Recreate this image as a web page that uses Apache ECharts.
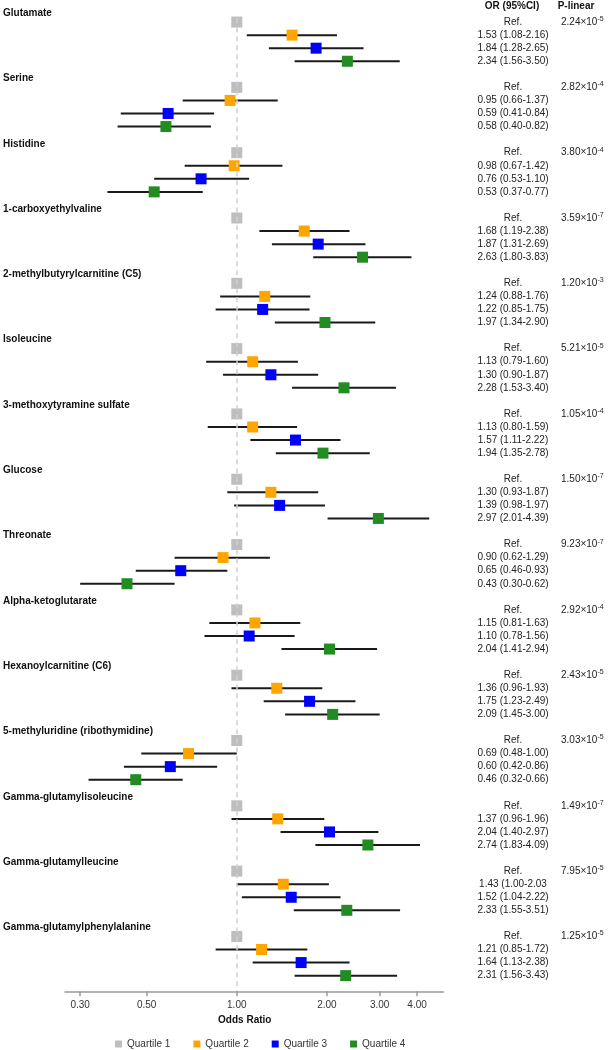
<!DOCTYPE html>
<html>
<head>
<meta charset="utf-8">
<script src="https://cdn.jsdelivr.net/npm/echarts@6/dist/echarts.min.js"></script>
<style>
  html, body { margin: 0; padding: 0; background: #fff; }
  #chart { width: 609px; height: 1050px; }
</style>
</head>
<body>
<div id="chart"></div>
<script>
// ---------------- data ----------------
const metabolites = [
  'Glutamate', 'Serine', 'Histidine', '1-carboxyethylvaline',
  '2-methylbutyrylcarnitine (C5)', 'Isoleucine', '3-methoxytyramine sulfate',
  'Glucose', 'Threonate', 'Alpha-ketoglutarate', 'Hexanoylcarnitine (C6)',
  '5-methyluridine (ribothymidine)', 'Gamma-glutamylisoleucine',
  'Gamma-glutamylleucine', 'Gamma-glutamylphenylalanine'
];
const quartileNames = ['Quartile 1', 'Quartile 2', 'Quartile 3', 'Quartile 4'];
const refOR = 1.00;
const q2OR = [1.53, 0.95, 0.98, 1.68, 1.24, 1.13, 1.13, 1.30, 0.90, 1.15, 1.36, 0.69, 1.37, 1.43, 1.21];
const q2Lo = [1.08, 0.66, 0.67, 1.19, 0.88, 0.79, 0.80, 0.93, 0.62, 0.81, 0.96, 0.48, 0.96, 1.00, 0.85];
const q2Hi = [2.16, 1.37, 1.42, 2.38, 1.76, 1.60, 1.59, 1.87, 1.29, 1.63, 1.93, 1.00, 1.96, 2.03, 1.72];
const q3OR = [1.84, 0.59, 0.76, 1.87, 1.22, 1.30, 1.57, 1.39, 0.65, 1.10, 1.75, 0.60, 2.04, 1.52, 1.64];
const q3Lo = [1.28, 0.41, 0.53, 1.31, 0.85, 0.90, 1.11, 0.98, 0.46, 0.78, 1.23, 0.42, 1.40, 1.04, 1.13];
const q3Hi = [2.65, 0.84, 1.10, 2.69, 1.75, 1.87, 2.22, 1.97, 0.93, 1.56, 2.49, 0.86, 2.97, 2.22, 2.38];
const q4OR = [2.34, 0.58, 0.53, 2.63, 1.97, 2.28, 1.94, 2.97, 0.43, 2.04, 2.09, 0.46, 2.74, 2.33, 2.31];
const q4Lo = [1.56, 0.40, 0.37, 1.80, 1.34, 1.53, 1.35, 2.01, 0.30, 1.41, 1.45, 0.32, 1.83, 1.55, 1.56];
const q4Hi = [3.50, 0.82, 0.77, 3.83, 2.90, 3.40, 2.78, 4.39, 0.62, 2.94, 3.00, 0.66, 4.09, 3.51, 3.43];
const pMantissa = ['2.24', '2.82', '3.80', '3.59', '1.20', '5.21', '1.05', '1.50', '9.23', '2.92', '2.43', '3.03', '1.49', '7.95', '1.25'];
const pExponent = ['-5', '-4', '-4', '-7', '-3', '-5', '-4', '-7', '-7', '-4', '-5', '-5', '-7', '-5', '-5'];
// text exactly as printed in the source (one closing parenthesis is missing there);
// key = metaboliteIndex-quartileNumber
const orTextOverrides = { '13-2': '1.43 (1.00-2.03' };
const xTickValues = [0.30, 0.50, 1.00, 2.00, 3.00, 4.00];
const xRange = [0.267, 4.9];

// ---------------- layout helpers ----------------
const SLOTS = 5;            // title slot + 4 quartile rows
const TITLE_SHIFT = 0.32;
const Y_MAX = 75.2;
const FONT = '"Liberation Sans", Arial, Helvetica, sans-serif';
const colors = ['#BEBEBE', '#FFA500', '#0000FF', '#228B22'];
const log = v => Math.log10(v);
const key = v => v.toFixed(3);

const rowY = (g, q) => g * SLOTS + 1 + q;      // q = 0..3
const quart = [
  null,
  { or: q2OR, lo: q2Lo, hi: q2Hi },
  { or: q3OR, lo: q3Lo, hi: q3Hi },
  { or: q4OR, lo: q4Lo, hi: q4Hi }
];

const titleMap = {}, orMap = {}, pMap = {};
const titleVals = [], rowVals = [], refVals = [];
metabolites.forEach((m, g) => {
  const tv = g * SLOTS + TITLE_SHIFT;
  titleVals.push(tv); titleMap[key(tv)] = m;
  for (let q = 0; q < 4; q++) {
    const y = rowY(g, q);
    rowVals.push(y);
    let t;
    if (q === 0) t = 'Ref.';
    else {
      const d = quart[q];
      t = orTextOverrides[g + '-' + (q + 1)] ||
        `${d.or[g].toFixed(2)} (${d.lo[g].toFixed(2)}-${d.hi[g].toFixed(2)})`;
    }
    orMap[key(y)] = t;
  }
  const ry = rowY(g, 0);
  refVals.push(ry);
  pMap[key(ry)] = `{m|${pMantissa[g]}×10}{s|${pExponent[g]}}`;
});

// scatter data per quartile
const pointSeries = quartileNames.map((name, q) => ({
  name,
  type: 'scatter',
  symbol: 'rect',
  symbolSize: 11,
  z: 4,
  itemStyle: { color: colors[q], opacity: 1 },
  data: metabolites.map((m, g) => [log(q === 0 ? refOR : quart[q].or[g]), rowY(g, q)])
}));

// whisker data
const whiskerData = [];
metabolites.forEach((m, g) => {
  for (let q = 1; q < 4; q++) {
    whiskerData.push([log(quart[q].lo[g]), log(quart[q].hi[g]), rowY(g, q)]);
  }
});

const baseY = {
  type: 'value', inverse: true, min: 0, max: Y_MAX,
  axisLine: { show: false }, axisTick: { show: false }, splitLine: { show: false }
};

const option = {
  backgroundColor: '#fff',
  animation: false,
  textStyle: { fontFamily: FONT },
  grid: { left: 64, right: 165.5, top: 9, bottom: 58.7, containLabel: false },
  xAxis: {
    type: 'value',
    position: 'bottom',
    min: log(xRange[0]), max: log(xRange[1]),
    splitLine: { show: false },
    axisLine: { onZero: false, lineStyle: { color: '#9a9a9a', width: 1.5 } },
    axisTick: { customValues: xTickValues.map(log), length: 5, lineStyle: { color: '#9a9a9a', width: 1.5 } },
    axisLabel: {
      customValues: xTickValues.map(log),
      formatter: v => Math.pow(10, v).toFixed(2),
      margin: 9, fontSize: 10, color: '#333', fontFamily: FONT
    },
    name: 'Odds Ratio', nameLocation: 'middle', nameGap: 23,
    nameTextStyle: { fontSize: 10, fontWeight: 'bold', color: '#111', fontFamily: FONT, padding: [0, 19, 0, 0] }
  },
  yAxis: [
    Object.assign({}, baseY, {
      position: 'left',
      axisLabel: {
        customValues: titleVals, formatter: v => titleMap[key(v)] || '',
        align: 'left', margin: 62, fontSize: 10, fontWeight: 'bold', color: '#111', fontFamily: FONT
      }
    }),
    Object.assign({}, baseY, {
      position: 'right',
      axisLabel: {
        customValues: rowVals, formatter: v => orMap[key(v)] || '',
        align: 'center', margin: 69.5, fontSize: 10, color: '#222', fontFamily: FONT
      }
    }),
    Object.assign({}, baseY, {
      position: 'right',
      axisLabel: {
        customValues: refVals, formatter: v => pMap[key(v)] || '',
        align: 'left', margin: 117.5, fontFamily: FONT,
        rich: {
          m: { fontSize: 10, color: '#222', fontFamily: FONT, lineHeight: 13 },
          s: { fontSize: 7, color: '#222', fontFamily: FONT, verticalAlign: 'top', lineHeight: 8 }
        }
      }
    })
  ],
  legend: {
    data: quartileNames,
    icon: 'rect', itemWidth: 7, itemHeight: 7, itemGap: 23,
    left: 115, top: 1039, padding: 0,
    textStyle: { fontSize: 10, color: '#333', fontFamily: FONT }
  },
  graphic: [
    { type: 'text', x: 512, y: 6, style: { text: 'OR (95%CI)', textAlign: 'center', textVerticalAlign: 'middle', font: 'bold 10px ' + FONT, fill: '#111' } },
    { type: 'text', x: 576, y: 6, style: { text: 'P-linear', textAlign: 'center', textVerticalAlign: 'middle', font: 'bold 10px ' + FONT, fill: '#111' } }
  ],
  series: [
    {
      type: 'custom',
      name: 'CI',
      z: 3,
      encode: { x: [0, 1], y: 2 },
      data: whiskerData,
      renderItem: (params, api) => {
        const p1 = api.coord([api.value(0), api.value(2)]);
        const p2 = api.coord([api.value(1), api.value(2)]);
        return {
          type: 'line',
          shape: { x1: p1[0], y1: p1[1], x2: p2[0], y2: p2[1] },
          style: { stroke: '#1a1a1a', lineWidth: 2 }
        };
      },
      markLine: {
        silent: true, symbol: 'none', animation: false,
        label: { show: false },
        lineStyle: { color: '#cfcfcf', type: [5, 4], width: 1.5 },
        data: [[{ coord: [log(refOR), 0.7] }, { coord: [log(refOR), Y_MAX] }]]
      }
    },
    ...pointSeries
  ]
};

const chart = echarts.init(document.getElementById('chart'), null, { renderer: 'canvas' });
chart.setOption(option);
</script>
</body>
</html>
